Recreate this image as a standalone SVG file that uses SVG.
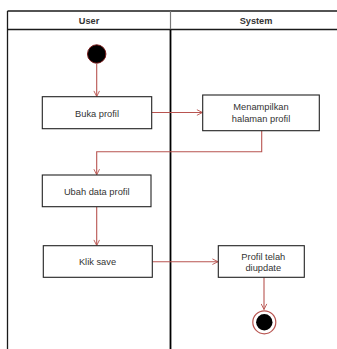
<svg xmlns="http://www.w3.org/2000/svg" width="337" height="349" viewBox="0 0 337 349">
  <style>
    .lane { fill: none; stroke: #1a1a1a; stroke-width: 1.3; }
    .head { font-family: "Liberation Sans", Arial, sans-serif; font-size: 9.2px; font-weight: bold; fill: #333; text-anchor: middle; }
    .box { fill: #fff; stroke: #222; stroke-width: 1.1; }
    .lbl { font-family: "Liberation Sans", Arial, sans-serif; font-size: 9.3px; fill: #333; text-anchor: middle; }
    .flow { fill: none; stroke: #b85450; stroke-width: 1.1; marker-end: url(#arrow); }
  </style>
  <defs>
    <marker id="arrow" viewBox="0 0 10 10" refX="9" refY="5" markerWidth="7" markerHeight="7" markerUnits="userSpaceOnUse" orient="auto">
      <path d="M1,1 L9,5 L1,9" fill="none" stroke="#b85450" stroke-width="1.3"/>
    </marker>
  </defs>
  <rect width="337" height="349" fill="#fff"/>

  <!-- swimlanes -->
  <g id="lanes">
    <line class="lane" x1="7.5" y1="11" x2="337" y2="11"/>
    <line class="lane" x1="7.5" y1="29.5" x2="337" y2="29.5"/>
    <line class="lane" x1="7.5" y1="11" x2="7.5" y2="349"/>
    <line x1="170.5" y1="11" x2="170.5" y2="29.5" stroke="#777" stroke-width="1.2"/>
    <line x1="170.5" y1="29.5" x2="170.5" y2="349" stroke="#000" stroke-width="1.8"/>
    <text class="head" x="89" y="23.5">User</text>
    <text class="head" x="256" y="23.5">System</text>
  </g>

  <!-- connectors -->
  <g id="connectors">
    <path class="flow" d="M96.7,64 V96.5"/>
    <path class="flow" d="M151.7,112.5 H202.5"/>
    <path class="flow" d="M261.7,130.7 V151.7 H96.7 V174.8"/>
    <path class="flow" d="M96.7,206.7 V245.5"/>
    <path class="flow" d="M152.3,261.7 H218"/>
    <path class="flow" d="M264,277.3 V309.5"/>
  </g>

  <g id="start">
    <circle cx="96.7" cy="54" r="9.2" fill="#000" stroke="#7a1a1a" stroke-width="1"/>
  </g>

  <g id="buka-profil">
    <rect class="box" x="42.3" y="96.7" width="109.4" height="32"/>
    <text class="lbl" x="97" y="116.5">Buka profil</text>
  </g>

  <g id="menampilkan">
    <rect class="box" x="202.7" y="95" width="116.6" height="35.7"/>
    <text class="lbl" x="261" y="110">Menampilkan</text>
    <text class="lbl" x="261" y="122">halaman profil</text>
  </g>

  <g id="ubah-data">
    <rect class="box" x="42.3" y="175" width="108.7" height="31.7"/>
    <text class="lbl" x="96.7" y="194.8">Ubah data profil</text>
  </g>

  <g id="klik-save">
    <rect class="box" x="43.3" y="245.7" width="109" height="31.6"/>
    <text class="lbl" x="97.5" y="264.8">Klik save</text>
  </g>

  <g id="profil-diupdate">
    <rect class="box" x="218.3" y="245.7" width="86" height="31.6"/>
    <text class="lbl" x="263.3" y="259.5">Profil telah</text>
    <text class="lbl" x="263.3" y="271">diupdate</text>
  </g>

  <g id="end">
    <circle cx="264.3" cy="322.3" r="11.5" fill="#fff" stroke="#b85450" stroke-width="1.2"/>
    <circle cx="264.3" cy="322.3" r="8.2" fill="#000"/>
  </g>
</svg>
